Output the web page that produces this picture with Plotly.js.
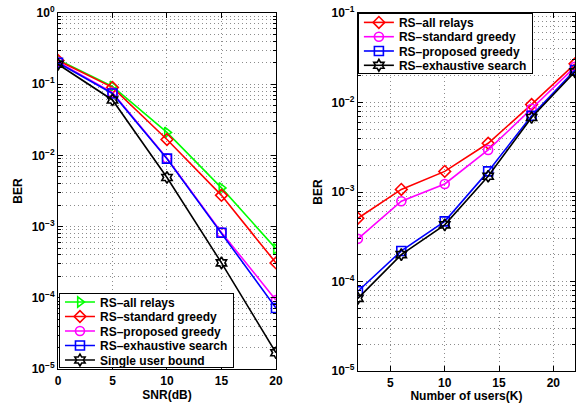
<!DOCTYPE html>
<html><head><meta charset="utf-8">
<script src="https://cdn.plot.ly/plotly-3.0.1.min.js"></script>
<style>html,body{margin:0;padding:0;background:#fff}#plot{width:581px;height:403px}</style>
</head><body><div id="plot"></div>
<script>
// Left panel: BER vs SNR
const snr = [0, 5, 10, 15, 20];
const leftNames = ['RS–all relays', 'RS–standard greedy', 'RS–proposed greedy', 'RS–exhaustive search', 'Single user bound'];
const allRelaysL   = [0.22, 0.093, 0.021, 0.0035, 0.00049];
const stdGreedyL   = [0.215, 0.09, 0.0167, 0.00275, 0.00031];
const propGreedyL  = [0.205, 0.076, 0.0091, 0.00083, 0.000093];
const exhaustiveL  = [0.2, 0.074, 0.009, 0.00082, 0.000072];
const singleUserL  = [0.19, 0.06, 0.0049, 0.00031, 0.000017];

// Right panel: BER vs number of users
const users = [2, 6, 10, 14, 18, 22];
const rightNames = ['RS–all relays', 'RS–standard greedy', 'RS–proposed greedy', 'RS–exhaustive search'];
const allRelaysR   = [0.00051, 0.00107, 0.0017, 0.0035, 0.0095, 0.027];
const stdGreedyR   = [0.0003, 0.00079, 0.00123, 0.00295, 0.0085, 0.025];
const propGreedyR  = [0.000078, 0.00022, 0.00047, 0.0017, 0.0071, 0.023];
const exhaustiveR  = [0.000065, 0.0002, 0.00043, 0.0015, 0.0068, 0.022];

const leftTickVals = [1, 0.1, 0.01, 0.001, 0.0001, 0.00001];
const leftTickText = ['10<sup>0</sup>', '10<sup>−1</sup>', '10<sup>−2</sup>', '10<sup>−3</sup>', '10<sup>−4</sup>', '10<sup>−5</sup>'];
const rightTickVals = [0.1, 0.01, 0.001, 0.0001, 0.00001];
const rightTickText = ['10<sup>−1</sup>', '10<sup>−2</sup>', '10<sup>−3</sup>', '10<sup>−4</sup>', '10<sup>−5</sup>'];

function minorVals(lo, hi) {
  const v = [];
  for (let e = lo; e < hi; e++) for (let m = 2; m <= 9; m++) v.push(m * Math.pow(10, e));
  return v;
}

const FONT = 'Liberation Sans, Arial, sans-serif';
function tr(x, y, name, color, symbol, xa, ya, leg) {
  return {x: x, y: y, name: name, type: 'scatter', mode: 'lines+markers',
    xaxis: xa, yaxis: ya, legend: leg,
    line: {color: color, width: 1.6},
    marker: {symbol: symbol, size: 9, color: color, line: {color: color, width: 1.6}}};
}

const data = [
  tr(snr, allRelaysL, leftNames[0], '#00ff00', 'triangle-right-open', 'x', 'y', 'legend'),
  tr(snr, stdGreedyL, leftNames[1], '#ff0000', 'diamond-open', 'x', 'y', 'legend'),
  tr(snr, propGreedyL, leftNames[2], '#ff00ff', 'circle-open', 'x', 'y', 'legend'),
  tr(snr, exhaustiveL, leftNames[3], '#0000ff', 'square-open', 'x', 'y', 'legend'),
  tr(snr, singleUserL, leftNames[4], '#000000', 'hexagram-open', 'x', 'y', 'legend'),
  tr(users, allRelaysR, rightNames[0], '#ff0000', 'diamond-open', 'x2', 'y2', 'legend2'),
  tr(users, stdGreedyR, rightNames[1], '#ff00ff', 'circle-open', 'x2', 'y2', 'legend2'),
  tr(users, propGreedyR, rightNames[2], '#0000ff', 'square-open', 'x2', 'y2', 'legend2'),
  tr(users, exhaustiveR, rightNames[3], '#000000', 'hexagram-open', 'x2', 'y2', 'legend2')
];

const tickFont = {family: FONT, size: 12, color: '#000', weight: 700};
const titleFont = {family: FONT, size: 12, color: '#000', weight: 700};
const GRID = '#8c8c8c';
const gridCommon = {showline: true, linecolor: '#000', linewidth: 1, mirror: 'ticks',
  ticks: 'inside', ticklen: 5, tickcolor: '#000', showgrid: true, gridcolor: GRID,
  griddash: '1px,3px', gridwidth: 1, zeroline: false, tickfont: tickFont};
const minorCommon = {tickmode: 'array', ticks: 'inside', ticklen: 3, tickcolor: '#000',
  showgrid: true, gridcolor: GRID, griddash: '1px,3px', gridwidth: 1};

const layout = {
  width: 581, height: 403, margin: {l: 0, r: 0, t: 0, b: 0},
  paper_bgcolor: '#fff', plot_bgcolor: '#fff', showlegend: true,
  font: {family: FONT, color: '#000'},
  xaxis: Object.assign({}, gridCommon, {domain: [0.0998, 0.475], anchor: 'y', range: [0, 20],
    tickmode: 'linear', tick0: 0, dtick: 5,
    title: {text: 'SNR(dB)', font: titleFont, standoff: 1}}),
  yaxis: Object.assign({}, gridCommon, {domain: [0.084, 0.968], anchor: 'x', type: 'log', range: [-5, 0],
    tickmode: 'array', tickvals: leftTickVals, ticktext: leftTickText,
    minor: Object.assign({}, minorCommon, {tickvals: minorVals(-5, 0)}),
    title: {text: 'BER', font: titleFont, standoff: 6}}),
  xaxis2: Object.assign({}, gridCommon, {domain: [0.616, 0.9897], anchor: 'y2', range: [2, 22],
    tickmode: 'linear', tick0: 0, dtick: 5,
    title: {text: 'Number of users(K)', font: titleFont, standoff: 1}}),
  yaxis2: Object.assign({}, gridCommon, {domain: [0.079, 0.968], anchor: 'x2', type: 'log', range: [-5, -1],
    tickmode: 'array', tickvals: rightTickVals, ticktext: rightTickText,
    minor: Object.assign({}, minorCommon, {tickvals: minorVals(-5, -1)}),
    title: {text: 'BER', font: titleFont, standoff: 6}}),
  legend: {x: 0.1015, y: 0.0868, xanchor: 'left', yanchor: 'bottom', bgcolor: '#fff',
    bordercolor: '#000', borderwidth: 1, font: {family: FONT, size: 12, color: '#000', weight: 700},
    tracegroupgap: 0},
  legend2: {x: 0.616, y: 0.968, xanchor: 'left', yanchor: 'top', bgcolor: '#fff',
    bordercolor: '#000', borderwidth: 1, font: {family: FONT, size: 12, color: '#000', weight: 700},
    tracegroupgap: 0}
};

// Tighten legend rows and padding to match the reference (post-render, cosmetic only)
function compactLegend(cls, spacing, padTop, padBottom, anchorBottom) {
  const g = document.querySelector('g.' + cls);
  if (!g) return;
  const items = Array.from(g.querySelectorAll('g.traces'));
  const bg = g.querySelector('rect.bg');
  if (!items.length || !bg) return;
  const ty = el => {
    const m = /translate\(\s*([-\d.e]+)[ ,]+([-\d.e]+)/.exec(el.getAttribute('transform') || '');
    return m ? [parseFloat(m[1]), parseFloat(m[2])] : [0, 0];
  };
  const bgY = parseFloat(bg.getAttribute('y') || 0);
  const oldH = parseFloat(bg.getAttribute('height'));
  items.forEach((el, i) => {
    const p = ty(el);
    el.setAttribute('transform', 'translate(' + p[0] + ',' + (bgY + padTop + i * spacing) + ')');
  });
  const newH = padTop + (items.length - 1) * spacing + padBottom;
  bg.setAttribute('height', newH);
  if (anchorBottom) {
    const gp = ty(g);
    g.setAttribute('transform', 'translate(' + gp[0] + ',' + (gp[1] + oldH - newH) + ')');
  }
}

Plotly.newPlot('plot', data, layout, {displayModeBar: false, staticPlot: true}).then(() => {
  compactLegend('legend', 14.5, 9, 7.5, true);
  compactLegend('legend2', 14.3, 9, 8, false);
});
</script></body></html>
